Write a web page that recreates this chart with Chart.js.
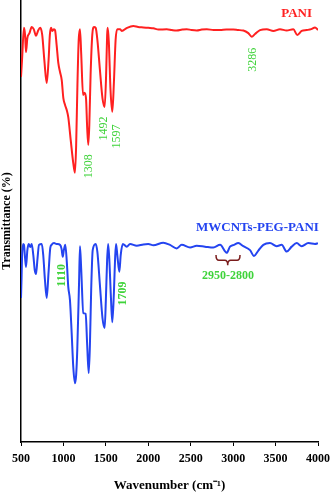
<!DOCTYPE html>
<html>
<head>
<meta charset="utf-8">
<script src="https://cdn.jsdelivr.net/npm/chart.js@4.4.0/dist/chart.umd.min.js"></script>
<style>
  body { margin: 0; background: #fff; }
  canvas { display: block; }
</style>
</head>
<body>
<canvas id="myChart" width="331" height="493"></canvas>
<script>
// FTIR spectra, transmittance in arbitrary offset units (0-100)
const paniWn = [500, 512, 535, 548, 559, 575, 600, 626, 650, 677, 700, 727, 750, 775, 803, 825, 840, 854, 870, 889,
  901, 920, 940, 960, 980, 999, 1020, 1039, 1057, 1086, 1116, 1136, 1150, 1165, 1180, 1195, 1210, 1231, 1248, 1266,
  1280, 1293, 1305, 1320, 1340, 1360, 1380, 1400, 1430, 1460, 1486, 1503, 1515, 1522, 1535, 1555, 1576, 1595, 1615, 1635,
  1667, 1687, 1750, 1824, 1880, 1942, 2000, 2060, 2120, 2217, 2280, 2335, 2400, 2453, 2510, 2571, 2630, 2689, 2770, 2846,
  2920, 3002, 3060, 3120, 3179, 3219, 3258, 3317, 3396, 3474, 3552, 3631, 3709, 3756, 3808, 3867, 3920, 3965, 4000];
const paniT = [82.6, 86.4, 93.7, 92.1, 88.2, 91.4, 92.5, 93.9, 93.4, 91.9, 93.0, 93.7, 92.1, 86.4, 81.2, 86.4, 92.1, 93.7, 93.0, 93.4,
  93.2, 89.8, 85.7, 83.7, 81.9, 77.8, 76.2, 75.1, 73.5, 68.3, 63.1, 60.9, 67.2, 80.8, 91.0, 93.4, 87.6, 78.5, 79.0, 77.8,
  71.0, 67.2, 71.7, 83.0, 92.1, 93.9, 93.7, 91.0, 84.2, 77.8, 75.8, 83.0, 92.1, 93.7, 90.5, 79.6, 74.7, 81.4, 91.0, 93.4,
  93.4, 93.0, 93.7, 94.1, 93.9, 93.8, 93.7, 93.6, 93.3, 93.4, 93.2, 93.1, 93.3, 93.4, 93.2, 93.1, 93.3, 93.4, 93.2, 93.2,
  93.3, 93.3, 93.2, 93.1, 92.5, 91.7, 92.3, 93.2, 93.4, 93.0, 93.4, 93.1, 93.4, 92.1, 93.0, 93.2, 93.4, 93.8, 93.2];

const mwWn = [500, 506, 512, 524, 535, 548, 559, 575, 590, 610, 626, 645, 662, 677, 695, 712, 745, 762, 782, 803,
  825, 845, 860, 889, 920, 960, 978, 992, 1005, 1022, 1040, 1057, 1077, 1097, 1116, 1136, 1150, 1163, 1184, 1195,
  1210, 1234, 1262, 1280, 1298, 1312, 1327, 1345, 1380, 1400, 1430, 1460, 1486, 1500, 1515, 1527, 1540, 1560, 1576, 1595,
  1610, 1620, 1635, 1659, 1675, 1700, 1746, 1785, 1864, 1942, 2000, 2060, 2177, 2256, 2335, 2394, 2492, 2571, 2668, 2767,
  2846, 2924, 2963, 3010, 3061, 3120, 3199, 3246, 3297, 3356, 3434, 3513, 3572, 3631, 3690, 3749, 3808, 3886, 3965, 4000];
const mwT = [32.6, 36.7, 41.6, 44.8, 44.6, 41.6, 39.6, 43.4, 44.8, 44.1, 44.8, 42.3, 38.9, 38.0, 41.6, 44.6, 44.8, 42.3, 36.7, 32.6,
  38.5, 43.9, 44.6, 45.0, 44.8, 44.6, 43.7, 41.9, 43.4, 44.6, 40.7, 35.1, 32.1, 24.7, 17.0, 13.3, 15.2, 20.8, 36.0, 44.3,
  38.9, 29.2, 29.0, 21.9, 15.6, 21.9, 34.4, 43.4, 44.8, 43.0, 35.5, 28.1, 25.8, 32.1, 41.2, 44.8, 41.6, 32.6, 27.1, 33.9,
  42.1, 44.8, 42.3, 38.5, 42.3, 44.8, 44.2, 44.8, 44.4, 44.7, 44.8, 44.5, 45.1, 44.6, 43.8, 44.6, 44.0, 44.4, 44.2, 44.0,
  44.6, 42.8, 44.2, 44.6, 45.0, 44.3, 43.4, 42.1, 43.3, 44.6, 45.0, 44.3, 44.6, 43.1, 44.2, 45.0, 44.3, 45.0, 44.8, 45.0];

const xTicks = [500, 1000, 1500, 2000, 2500, 3000, 3500, 4000];

// peak labels: [text, wavenumber, transmittance, bold]
const peakLabels = [
  ["1308", 1305, 62.4, false],
  ["1492", 1478, 70.9, false],
  ["1597", 1635, 69.1, false],
  ["3286", 3228, 86.5, false],
  ["1110", 983, 37.7, true],
  ["1709", 1697, 33.6, true],
];

const SERIF = "'Liberation Serif', 'Times New Roman', serif";
const GREEN = "#3fd33a";

const toXY = (xs, ys) => xs.map((x, i) => ({ x: x, y: ys[i] }));

const labelsPlugin = {
  id: "labels",
  afterDatasetsDraw(chart) {
    const ctx = chart.ctx;
    const xs = chart.scales.x;
    const ys = chart.scales.y;
    ctx.save();

    // series names
    ctx.font = "bold 13px " + SERIF;
    ctx.textAlign = "right";
    ctx.textBaseline = "middle";
    ctx.fillStyle = "#ff2020";
    ctx.fillText("PANI", xs.getPixelForValue(3930), ys.getPixelForValue(97.0));
    ctx.fillStyle = "#2444f0";
    ctx.fillText("MWCNTs-PEG-PANI", xs.getPixelForValue(4010), ys.getPixelForValue(48.4));

    // rotated peak labels
    ctx.fillStyle = GREEN;
    ctx.textAlign = "center";
    for (const [txt, wn, t, bold] of peakLabels) {
      ctx.save();
      ctx.translate(xs.getPixelForValue(wn), ys.getPixelForValue(t));
      ctx.rotate(-Math.PI / 2);
      ctx.font = (bold ? "bold " : "") + "12px " + SERIF;
      ctx.fillText(txt, 0, 0);
      ctx.restore();
    }

    // range label with brace
    ctx.font = "bold 12px " + SERIF;
    ctx.fillText("2950-2800", xs.getPixelForValue(2940), ys.getPixelForValue(37.6));

    const x0 = xs.getPixelForValue(2798);
    const x1 = xs.getPixelForValue(3081);
    const xm = xs.getPixelForValue(2936);
    const yTop = ys.getPixelForValue(42.3);
    const yMid = ys.getPixelForValue(41.1);
    const yTip = ys.getPixelForValue(40.0);
    ctx.strokeStyle = "#7a1c1c";
    ctx.lineWidth = 1.5;
    ctx.beginPath();
    ctx.moveTo(x0, yTop);
    ctx.quadraticCurveTo(x0, yMid, x0 + 3, yMid);
    ctx.lineTo(xm - 3, yMid);
    ctx.quadraticCurveTo(xm, yMid, xm, yTip);
    ctx.quadraticCurveTo(xm, yMid, xm + 3, yMid);
    ctx.lineTo(x1 - 3, yMid);
    ctx.quadraticCurveTo(x1, yMid, x1, yTop);
    ctx.stroke();

    ctx.restore();
  },
};

const config = {
  type: "line",
  data: {
    datasets: [
      {
        label: "PANI",
        data: toXY(paniWn, paniT),
        borderColor: "#ff2020",
        borderWidth: 2,
        pointRadius: 0,
        cubicInterpolationMode: "monotone",
      },
      {
        label: "MWCNTs-PEG-PANI",
        data: toXY(mwWn, mwT),
        borderColor: "#2444f0",
        borderWidth: 2,
        pointRadius: 0,
        cubicInterpolationMode: "monotone",
      },
    ],
  },
  options: {
    responsive: false,
    animation: false,
    layout: { padding: { top: 0, right: 13, bottom: 0, left: 0 } },
    plugins: {
      legend: { display: false },
      tooltip: { enabled: false },
    },
    scales: {
      x: {
        type: "linear",
        min: 500,
        max: 4000,
        afterBuildTicks: (s) => { s.ticks = xTicks.map((v) => ({ value: v })); },
        afterFit: (s) => {
          s.height = 51;
          s.paddingLeft = 0;
          s.paddingRight = 0;
        },
        ticks: {
          color: "#000",
          padding: 6,
          maxRotation: 0,
          callback: (v) => String(v),
          font: { family: SERIF, size: 12, weight: "bold" },
        },
        grid: { display: true, drawOnChartArea: false, drawTicks: true, tickLength: 4, color: "#000" },
        border: { display: true, color: "#000", width: 1.5 },
        title: {
          display: true,
          text: "Wavenumber (cm\u207B\u00B9)",
          color: "#000",
          padding: { top: 0, bottom: 0 },
          font: { family: SERIF, size: 13, weight: "bold" },
        },
      },
      y: {
        min: 0,
        max: 100,
        afterFit: (s) => { s.width = 21; },
        ticks: { display: false },
        grid: { display: false },
        border: { display: true, color: "#000", width: 1.5 },
        title: {
          display: true,
          text: "Transmittance (%)",
          color: "#000",
          padding: { top: 0, bottom: 0 },
          font: { family: SERIF, size: 12, weight: "bold" },
        },
      },
    },
  },
  plugins: [labelsPlugin],
};

let myChart = document.getElementById("myChart");
new Chart(myChart.getContext("2d"), config);
</script>
</body>
</html>
